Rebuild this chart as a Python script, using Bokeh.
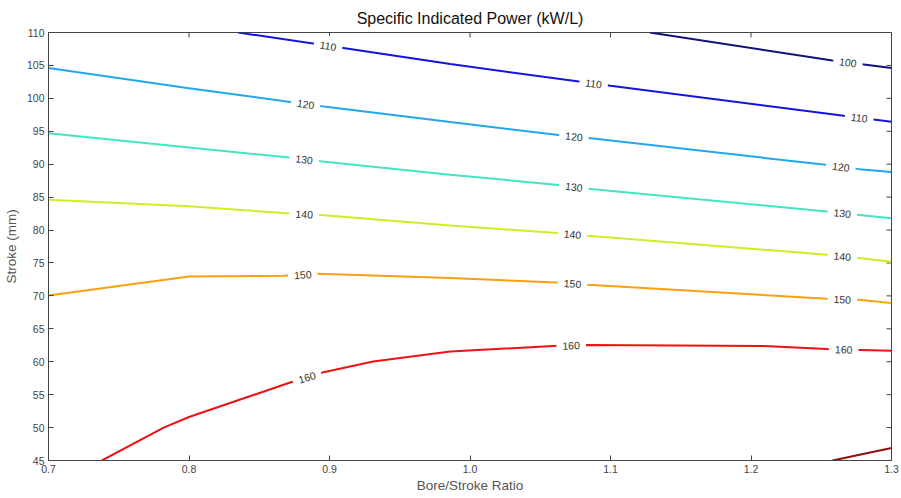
import numpy as np
from bokeh.plotting import figure
from bokeh.models import Range1d, FixedTicker, ColumnDataSource
from bokeh.core.properties import value
from bokeh.embed import file_html
from bokeh.resources import INLINE

# ---------------- data ----------------
levels = [100, 110, 120, 130, 140, 150, 160, 170]
colors = ["#12127a", "#1414dc", "#22a6f0", "#40e6c0", "#c8f024", "#f8a010", "#f01212", "#8c1010"]

c100_x = [1.128, 1.258, 1.300]
c100_y = [110.0, 105.75, 104.6]
c110_x = [0.835, 0.911, 0.986, 1.100, 1.266, 1.300]
c110_y = [110.0, 107.6, 105.2, 101.9, 97.35, 96.45]
c120_x = [0.700, 0.800, 0.872, 0.896, 0.986, 1.063, 1.086, 1.253, 1.277, 1.300]
c120_y = [104.6, 101.55, 99.45, 98.75, 96.4, 94.45, 93.95, 89.9, 89.25, 88.8]
c130_x = [0.700, 0.872, 0.895, 0.986, 1.063, 1.086, 1.254, 1.277, 1.300]
c130_y = [94.7, 91.0, 90.4, 88.4, 86.85, 86.25, 82.8, 82.3, 81.8]
c140_x = [0.700, 0.800, 0.870, 0.894, 0.986, 1.062, 1.084, 1.254, 1.277, 1.300]
c140_y = [84.6, 83.6, 82.55, 82.3, 80.7, 79.55, 79.15, 76.25, 75.75, 75.2]
c150_x = [0.700, 0.800, 0.867, 0.892, 0.986, 1.061, 1.084, 1.254, 1.277, 1.300]
c150_y = [70.05, 72.95, 73.05, 73.35, 72.7, 72.05, 71.7, 69.55, 69.4, 68.9]
c160_x = [0.738, 0.782, 0.800, 0.872, 0.895, 0.931, 0.986, 1.059, 1.084, 1.209, 1.254, 1.278, 1.300]
c160_y = [45.0, 50.0, 51.6, 56.85, 58.35, 60.05, 61.55, 62.4, 62.55, 62.4, 61.95, 61.8, 61.65]
c170_x = [1.258, 1.300]
c170_y = [45.0, 46.9]

contour_x = [c100_x, c110_x, c120_x, c130_x, c140_x, c150_x, c160_x, c170_x]
contour_y = [c100_y, c110_y, c120_y, c130_y, c140_y, c150_y, c160_y, c170_y]

# where along each contour (bore/stroke ratio) its inline labels sit
label_at = [
    [1.269],
    [0.899, 1.088, 1.277],
    [0.883, 1.074, 1.264],
    [0.882, 1.074, 1.265],
    [0.882, 1.073, 1.265],
    [0.881, 1.073, 1.265],
    [0.884, 1.072, 1.266],
    [],
]

x_ticks = [0.7, 0.8, 0.9, 1.0, 1.1, 1.2, 1.3]
y_ticks = [45, 50, 55, 60, 65, 70, 75, 80, 85, 90, 95, 100, 105, 110]

# ---------------- figure ----------------
W, H = 901, 498
BL, BR, BT, BB = 48, 10, 32, 38
X0, X1, Y0, Y1 = 0.7, 1.3, 45, 110
FONT = "Liberation Sans"
AX = "#444444"

p = figure(width=W, height=H, output_backend="svg", toolbar_location=None,
           x_range=Range1d(X0, X1), y_range=Range1d(Y0, Y1),
           min_border_left=BL, min_border_right=BR, min_border_top=BT, min_border_bottom=BB,
           title="Specific Indicated Power (kW/L)")
p.background_fill_color = "white"
p.border_fill_color = "white"
p.outline_line_color = AX
p.outline_line_width = 1
p.xgrid.visible = False
p.ygrid.visible = False

p.title.align = "center"
p.title.text_font = FONT
p.title.text_font_size = "16px"
p.title.text_font_style = "normal"
p.title.text_color = "#111111"
p.title.standoff = 11

def style_axis(ax, ticks):
    ax.ticker = FixedTicker(ticks=ticks)
    ax.axis_line_color = AX
    ax.major_tick_line_color = AX
    ax.major_tick_in = 5
    ax.major_tick_out = 0
    ax.minor_tick_line_color = None
    ax.major_label_text_font = FONT
    ax.major_label_text_color = AX
    ax.major_label_text_font_size = "10.5px"
    ax.major_label_standoff = 4
    ax.axis_label_text_font = FONT
    ax.axis_label_text_font_style = "normal"
    ax.axis_label_text_color = "#555555"
    ax.axis_label_text_font_size = "13.5px"

xa = p.xaxis[0]
ya = p.yaxis[0]
style_axis(xa, x_ticks)
style_axis(ya, y_ticks)
xa.major_label_overrides = {t: f"{t:.1f}" for t in x_ticks}
xa.axis_label = "Bore/Stroke Ratio"
xa.axis_label_standoff = 2
ya.axis_label = "Stroke (mm)"
ya.axis_label_standoff = 5

# frame geometry (used for inward tick length and label rotation)
fw = W - BL - BR
fh = H - BT - BB
sx = fw / (X1 - X0)
sy = fh / (Y1 - Y0)
TICK = 5

# inward ticks on the top and right edges of the box
nx, ny = len(x_ticks), len(y_ticks)
p.segment(x0=x_ticks, y0=[Y1] * nx, x1=x_ticks, y1=[Y1 - TICK / sy] * nx,
          line_color=AX, line_width=1)
p.segment(x0=[X1] * ny, y0=y_ticks, x1=[X1 - TICK / sx] * ny, y1=y_ticks,
          line_color=AX, line_width=1)

# ---------------- contour lines ----------------
for xs, ys, c in zip(contour_x, contour_y, colors):
    p.line(xs, ys, line_color=c, line_width=2)

# ---------------- inline labels ----------------
lx, ly, la, lt = [], [], [], []
for xs, ys, lv, pos in zip(contour_x, contour_y, levels, label_at):
    xs = np.asarray(xs); ys = np.asarray(ys)
    for x in pos:
        y = float(np.interp(x, xs, ys))
        i = int(np.clip(np.searchsorted(xs, x), 1, len(xs) - 1))
        slope = (ys[i] - ys[i - 1]) / (xs[i] - xs[i - 1])
        ang = np.arctan(slope * sy / sx)
        lx.append(x); ly.append(y); la.append(ang); lt.append(str(lv))

src = ColumnDataSource(dict(x=lx, y=ly, angle=la, text=lt))
p.text(x="x", y="y", text="text", angle="angle", source=src,
       text_font=value(FONT), text_font_size="10.5px", text_color="#333333",
       text_align="center", text_baseline="middle",
       background_fill_color="white", padding=6)

open("out.html", "w").write(file_html(p, INLINE))
